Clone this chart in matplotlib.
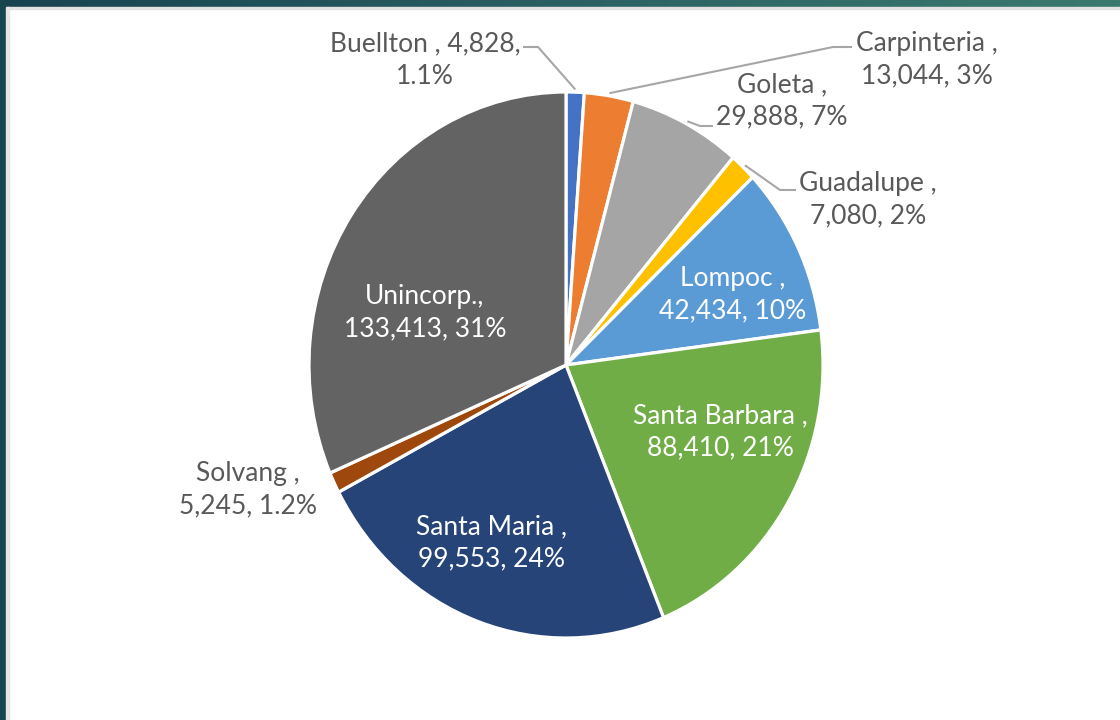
import matplotlib
matplotlib.use("Agg")
import matplotlib.pyplot as plt
import numpy as np
from matplotlib.patches import Rectangle

# population by city
cities = ["Buellton", "Carpinteria", "Goleta", "Guadalupe", "Lompoc",
          "Santa Barbara", "Santa Maria", "Solvang", "Unincorp."]
population = [4828, 13044, 29888, 7080, 42434, 88410, 99553, 5245, 133413]
pct_labels = ["1.1%", "3%", "7%", "2%", "10%", "21%", "24%", "1.2%", "31%"]
colors = ["#4472C4", "#ED7D31", "#A5A5A5", "#FFC000", "#5B9BD5",
          "#70AD47", "#264478", "#9E480E", "#636363"]

W, H = 1120, 720
cx, cy = 566, 365      # pie centre in pixels
rx, ry = 257, 273      # pie radii in pixels (source is slightly stretched)

# label centres (pixels) and whether they sit inside the wedge
label_pos = {
    "Buellton": (425, 60, False),
    "Carpinteria": (927, 60, False),
    "Goleta": (782, 101, False),
    "Guadalupe": (868, 200, False),
    "Lompoc": (733, 295, True),
    "Santa Barbara": (720, 432, True),
    "Santa Maria": (491, 543, True),
    "Solvang": (248, 490, False),
    "Unincorp.": (425, 313, True),
}
# leader elbows (pixels), line runs wedge edge -> elbow -> end
leaders = {
    "Buellton": [(538, 47), (523, 47)],
    "Carpinteria": [(833, 47), (852, 47)],
    "Goleta": [(700, 126), (713, 126)],
    "Guadalupe": [(780, 190), (796, 190)],
}


def px(x, y):
    return (x - cx) / rx, (cy - y) / ry


fig = plt.figure(figsize=(W / 100, H / 100), dpi=100)
fig.patch.set_facecolor("white")
ax = fig.add_axes([0, 0, 1, 1])
ax.set_axis_off()

wedges, _ = ax.pie(population, colors=colors, startangle=90, counterclock=False,
                   radius=1, wedgeprops=dict(edgecolor="white", linewidth=2.3))
ax.set_aspect("auto")
ax.set_xlim(-cx / rx, (W - cx) / rx)
ax.set_ylim(-(H - cy) / ry, cy / ry)

for name, val, pct_s, w in zip(cities, population, pct_labels, wedges):
    sep = "," if name.endswith(".") else " ,"
    if name == "Buellton":
        text = f"{name}{sep} {val:,},\n{pct_s}"
    else:
        text = f"{name}{sep}\n{val:,}, {pct_s}"
    lx, ly, inside = label_pos[name]
    ax.text(*px(lx, ly), text, ha="center", va="center", fontsize=19,
            family="Lato", linespacing=1.36,
            color="white" if inside else "#595959")
    if name in leaders:
        mid = np.deg2rad((w.theta1 + w.theta2) / 2)
        pts = [(np.cos(mid) * 1.01, np.sin(mid) * 1.01)]
        pts += [px(*p) for p in leaders[name]]
        xs, ys = zip(*pts)
        ax.plot(xs, ys, color="#A6A6A6", lw=1.5, solid_capstyle="butt")

# window frame on top and left
bar = fig.add_axes([0, 1 - 7 / H, 1, 7 / H])
bar.imshow(np.linspace(0, 1, 256)[None, :], aspect="auto",
           cmap=matplotlib.colors.LinearSegmentedColormap.from_list(
               "frame", ["#17434f", "#2b6063", "#3a7a6e"]))
bar.set_axis_off()
fig.patches.append(Rectangle((0, 1 - 9 / H), 1, 2 / H, transform=fig.transFigure,
                             color="#e2e2e2", zorder=5))
fig.patches.append(Rectangle((0, 0), 6 / W, 1, transform=fig.transFigure,
                             color="#17464f", zorder=6))
fig.patches.append(Rectangle((6 / W, 0), 3 / W, 1 - 7 / H, transform=fig.transFigure,
                             color="#e6e6e6", zorder=6))

fig.savefig("out.png", dpi=100, facecolor="white")
